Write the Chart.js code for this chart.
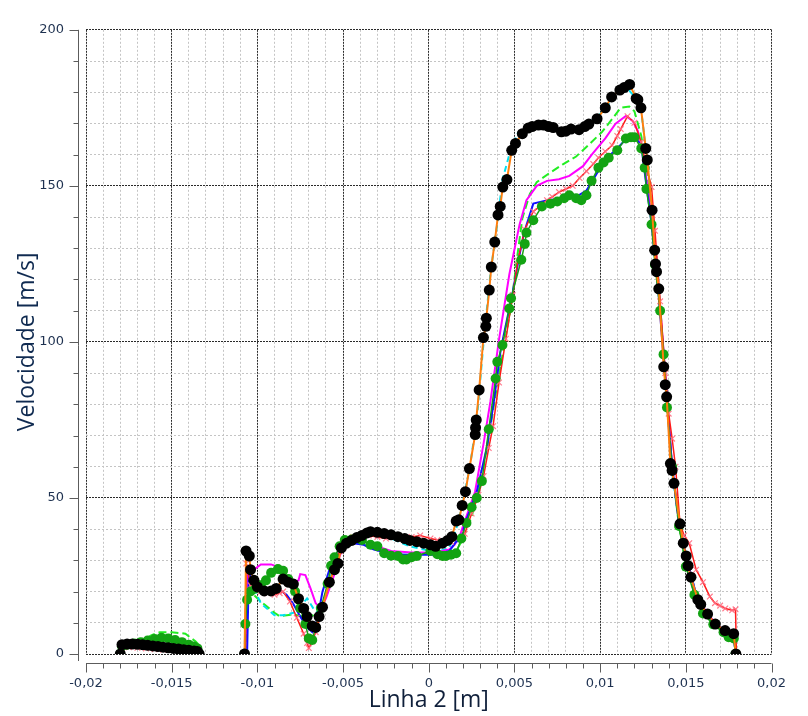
<!DOCTYPE html>
<html>
<head>
<meta charset="utf-8">
<script src="https://cdn.jsdelivr.net/npm/chart.js@4.4.1/dist/chart.umd.min.js"></script>
<style>
  body { margin: 0; background: #fff; }
  #wrap { width: 808px; height: 716px; }
</style>
</head>
<body>
<div id="wrap"><canvas id="grafico" width="808" height="716"></canvas></div>
<script>
// rótulos dos eixos
const xTickLabels = ['-0,02', '-0,015', '-0,01', '-0,005', '0', '0,005', '0,01', '0,015', '0,02'];
const yTickLabels = ['0', '50', '100', '150', '200'];

// pretos (linha laranja)
const xPreto = [-0.018, -0.0179, -0.0176, -0.0173, -0.017, -0.0167, -0.0164, -0.0161, -0.0158, -0.0155, -0.0152, -0.0149, -0.0146, -0.0143, -0.014, -0.0137, -0.0135, -0.0134, -0.012,
  -0.01075, -0.01066, -0.01047, -0.0104, -0.0102, -0.01, -0.0096, -0.0092, -0.0089, -0.0085, -0.0082, -0.0079, -0.0076, -0.0073, -0.0071, -0.0068, -0.0066, -0.0064, -0.0062, -0.0058, -0.0055, -0.0053, -0.0051, -0.0048, -0.0045, -0.0042, -0.0039, -0.0036, -0.0034, -0.003, -0.0026, -0.0022, -0.0018, -0.0014, -0.0011, -0.0007, -0.0003, 0.0001, 0.0004, 0.0008, 0.0011, 0.00135, 0.0016, 0.00176, 0.00195, 0.00214, 0.00237, 0.00271, 0.00273, 0.00277, 0.00294, 0.00319, 0.00333, 0.00336, 0.00353, 0.00365, 0.00385, 0.00404, 0.00417, 0.00432, 0.00456, 0.00484, 0.00506, 0.00546, 0.0058, 0.00603, 0.0064, 0.0067, 0.007, 0.00726, 0.00774, 0.008, 0.0083, 0.00877, 0.0091, 0.00934, 0.00982, 0.0103, 0.01067, 0.01115, 0.0114, 0.01172, 0.0121, 0.0122, 0.01238, 0.01266, 0.01275, 0.01303, 0.01318, 0.01323, 0.01329, 0.01342, 0.01371, 0.0138, 0.01388, 0.0141, 0.0142, 0.01431, 0.01466, 0.01485, 0.01502, 0.01513, 0.0153, 0.0157, 0.01587, 0.01627, 0.01672, 0.01729, 0.01779, 0.01792];
const yPreto = [0, 3.0, 3.2, 3.2, 3.1, 3.0, 2.8, 2.6, 2.4, 2.2, 2.0, 1.8, 1.6, 1.4, 1.2, 1.0, 0.8, 0, null,
  0, 33, 31.4, 27, 23.6, 21.5, 20.2, 20.2, 21, 24, 23, 22.4, 17.7, 14.6, 12, 9, 8.5, 12, 15, 23, 27, 29, 34, 35.5, 36.4, 37.3, 38, 38.8, 39.2, 39, 38.6, 38.2, 37.6, 37, 36.4, 36, 35.5, 35, 34.5, 35.5, 36.4, 37.6, 42.6, 43, 47.6, 52, 59.4, 70.3, 72.5, 75, 84.6, 101.4, 105, 107.6, 116.6, 124, 132, 140.7, 143.4, 149.6, 152, 161.4, 163.6, 166.7, 168.5, 169, 169.5, 169.5, 169, 168.7, 167.3, 167.5, 168.2, 168, 169, 169.8, 171.5, 175, 178.5, 180.7, 181.5, 182.5, 178, 177.6, 175, 162, 158.3, 142.2, 129.4, 125, 122.5, 117, 92, 86.3, 82.4, 61, 58.8, 54.7, 41.7, 35.5, 31.4, 28.3, 24.6, 17.4, 15.9, 12.8, 9.6, 7.5, 6.5, 0];

// ciano tracejado
const xCiano = [-0.018, -0.0179, -0.017, -0.016, -0.015, -0.014, -0.0135, -0.0134, -0.012,
  -0.01075, -0.0106, -0.0103, -0.0098, -0.009, -0.0085, -0.0079, -0.0075, -0.0071, -0.0067, -0.0064, -0.006, -0.0056, -0.0052, -0.0048, -0.0042, -0.0036, -0.003, -0.0022, -0.0011, 0.0004, 0.0012, 0.0016, 0.002, 0.0024, 0.0028, 0.0032, 0.0036, 0.004, 0.0043, 0.0047, 0.0052, 0.006, 0.0068, 0.0076, 0.0084, 0.0093, 0.01, 0.0107, 0.0112, 0.0117, 0.0121, 0.0124, 0.0127, 0.013, 0.0134, 0.0138, 0.0142, 0.0146, 0.015, 0.0156, 0.0163, 0.017, 0.0178, 0.0179];
const yCiano = [0, 3, 3, 2.6, 2, 1.3, 0.9, 0, null,
  0, 28, 22, 16.3, 12.4, 12.4, 13.2, 15.2, 17.8, 14.3, 12.8, 19, 27, 32, 35.5, 37.5, 38.5, 38.5, 37, 34.5, 32.6, 34, 40, 49, 60, 75, 100, 122, 138, 152, 160, 167, 170, 170, 168, 168.5, 170, 173, 177.5, 180, 180.5, 178, 174, 160, 145, 120, 88, 58, 42, 32, 19, 12, 8.5, 6.5, 0];

// azul
const xAzul = [-0.018, -0.0179, -0.017, -0.016, -0.015, -0.014, -0.0134, -0.012,
  -0.0106, -0.0105, -0.0102, -0.0098, -0.0093, -0.0088, -0.0083, -0.0079, -0.0075, -0.0071, -0.0068, -0.0065, -0.0062, -0.0058, -0.0054, -0.005, -0.0044, -0.0038, -0.0032, -0.0022, -0.001, 0.0004, 0.0012, 0.0016, 0.0019, 0.0021, 0.0024, 0.0028, 0.0034, 0.0038, 0.0042, 0.0049, 0.0053, 0.00556, 0.0061, 0.007, 0.008, 0.0086, 0.0092, 0.0097, 0.0103, 0.011, 0.0116, 0.012, 0.0124, 0.0127, 0.013, 0.0134, 0.0138, 0.0142, 0.0146, 0.015, 0.0156, 0.0163, 0.017, 0.0178, 0.0179];
const yAzul = [0, 2.8, 3, 3.5, 3, 2, 0, null,
  0, 26, 22, 21, 20.5, 21, 19, 16, 12, 8.5, 7, 11, 20, 27, 32, 34.5, 35.5, 35, 33.5, 32, 31.8, 31.8, 33, 36, 36.4, 41.7, 46, 52, 66.5, 81, 97.6, 116, 128, 135, 144.3, 145.5, 146, 146.5, 148.5, 153, 158.5, 162, 165.5, 166, 163, 150, 138, 116, 88, 60, 42, 32, 19, 12, 8.5, 6.5, 0];

// verde com pontos
const xVerde = [-0.018, -0.0179, -0.0176, -0.0172, -0.0168, -0.0164, -0.016, -0.0156, -0.0152, -0.0148, -0.0144, -0.014, -0.0137, -0.0135, -0.0134, -0.012,
  -0.01075, -0.0107, -0.0106, -0.0104, -0.0101, -0.0098, -0.0095, -0.0092, -0.0088, -0.0085, -0.0082, -0.0078, -0.0075, -0.0072, -0.007, -0.0068, -0.0066, -0.0063, -0.0059, -0.0057, -0.0055, -0.0052, -0.0049, -0.0045, -0.0039, -0.0034, -0.003, -0.0026, -0.0022, -0.0018, -0.0015, -0.0013, -0.001, -0.0007, 0.0001, 0.0005, 0.0008, 0.001, 0.0013, 0.0016, 0.0019, 0.0022, 0.0025, 0.0028, 0.0031, 0.0035, 0.0039, 0.004, 0.0043, 0.0047, 0.0048, 0.0054, 0.0056, 0.0057, 0.0061, 0.0066, 0.0071, 0.0075, 0.0079, 0.0082, 0.0086, 0.0089, 0.0092, 0.0095, 0.0099, 0.0102, 0.0105, 0.011, 0.0115, 0.0118, 0.012, 0.0124, 0.0126, 0.0127, 0.013, 0.0132, 0.0135, 0.0137, 0.0139, 0.0142, 0.0146, 0.015, 0.0155, 0.016, 0.0166, 0.0172, 0.0175, 0.0178, 0.0179];
const yVerde = [0, 2.5, 3, 3.4, 3.8, 4.3, 4.8, 5.2, 5, 4.5, 3.8, 3, 2.4, 1.8, 0, null,
  0, 9.6, 17.4, 20, 21, 22, 23.6, 26, 27.2, 26.7, 24, 20, 14.7, 9.6, 5, 4.5, 8.5, 14.7, 22.5, 28.3, 31, 34.5, 36.5, 36.7, 36.5, 35, 34.5, 32.3, 31.5, 31.4, 30.3, 30.3, 31, 31.4, 33, 32, 31.4, 31.4, 31.8, 32.3, 37, 42, 47, 50, 55.4, 72, 88.3, 93.6, 99, 110.7, 114, 126.3, 131.4, 135, 139, 143.4, 144.3, 145, 146, 147, 146, 145.4, 147, 151.6, 155.8, 157.5, 159, 161.4, 165.2, 165.6, 165.6, 162, 155.8, 149, 137.6, 124.7, 110, 96, 79, 60, 41, 28, 19, 13, 9.5, 7, 5.4, 5, 0];

// vermelho com cruzes
const xVermelho = [-0.018, -0.0179, -0.0175, -0.017, -0.0165, -0.016, -0.0155, -0.015, -0.0145, -0.014, -0.0135, -0.0134, -0.012,
  -0.0107, -0.01065, -0.0104, -0.0101, -0.0098, -0.0094, -0.009, -0.0087, -0.0085, -0.0081, -0.0077, -0.0073, -0.0071, -0.007, -0.0068, -0.0066, -0.0062, -0.0058, -0.0055, -0.0052, -0.0048, -0.0044, -0.004, -0.0035, -0.003, -0.0025, -0.0018, -0.001, -0.0005, 0.0001, 0.0005, 0.001, 0.0013, 0.0016, 0.0021, 0.0025, 0.0029, 0.0032, 0.0035, 0.00375, 0.0041, 0.0045, 0.0049, 0.0052, 0.0056, 0.0061, 0.0065, 0.0069, 0.0072, 0.0076, 0.008, 0.0084, 0.0088, 0.0092, 0.0096, 0.0099, 0.0103, 0.0107, 0.011, 0.0112, 0.0116, 0.012, 0.0124, 0.0127, 0.013, 0.0132, 0.0135, 0.0138, 0.014, 0.0142, 0.0144, 0.01466, 0.0149, 0.0152, 0.0156, 0.016, 0.0164, 0.0167, 0.017, 0.0173, 0.0177, 0.0179, 0.01795];
const yVermelho = [0, 2, 2.2, 2, 1.8, 1.5, 1.4, 1.3, 1.1, 1, 1.2, 0, null,
  0, 29, 22, 20.5, 20, 19.5, 19, 19.5, 20, 16.8, 11.6, 6.5, 3.5, 1.9, 4, 7, 14.7, 23, 28, 33, 36, 37.5, 38, 38, 37.5, 37, 37.5, 37.5, 38, 37, 36.5, 36, 36, 37, 38.5, 45, 51, 57, 66, 73, 87, 101, 115, 126, 136, 141.8, 143.5, 145.4, 146.5, 148, 149, 150, 152.5, 154.7, 157, 159, 161, 163, 166, 168.2, 172.3, 170.2, 164, 156, 149.6, 135.6, 113, 90, 77, 69, 60, 41.7, 38, 35.5, 27, 23, 18.4, 16.3, 15.5, 14.6, 14, 14.3, 0];

// magenta
const xMagenta = [-0.018, -0.0179, -0.017, -0.016, -0.015, -0.014, -0.0134, -0.012,
  -0.0107, -0.0106, -0.0102, -0.0098, -0.0092, -0.0087, -0.0084, -0.008, -0.0076, -0.0075, -0.0072, -0.0069, -0.0066, -0.0063, -0.006, -0.0056, -0.0052, -0.0049, -0.0044, -0.0038, -0.003, -0.0022, -0.001, 0.0004, 0.0012, 0.0015, 0.0018, 0.002, 0.0027, 0.0032, 0.0036, 0.0041, 0.0047, 0.0052, 0.0053, 0.0057, 0.0063, 0.0069, 0.0076, 0.0082, 0.009, 0.0095, 0.0103, 0.0109, 0.0115, 0.0119, 0.0122, 0.0125, 0.0128, 0.0131, 0.0134, 0.0138, 0.0142, 0.0146, 0.015, 0.0156, 0.0163, 0.017, 0.0178, 0.0179];
const yMagenta = [0, 2.8, 3, 3, 2.5, 1.8, 0, null,
  0, 25, 27, 28.7, 28.7, 27.7, 25.6, 23, 23.6, 25.6, 25.3, 21, 16.3, 14.7, 17.8, 24, 31.4, 35, 36.5, 36, 34.5, 33, 32.5, 32.5, 33.5, 35, 37.6, 41, 52, 67.5, 81, 100.8, 121.6, 135, 137.6, 145.4, 150, 151.6, 152.1, 153.2, 156.3, 159.9, 165.2, 169.9, 172.4, 170.8, 167.6, 160, 148, 136, 118, 90, 60, 42, 31, 19, 12.5, 8.5, 6.5, 0];

// verde claro tracejado
const xLima = [-0.018, -0.0179, -0.0172, -0.0166, -0.0162, -0.0157, -0.015, -0.0142, -0.0136, -0.0134, -0.0133, -0.012,
  -0.0107, -0.0106, -0.0105, -0.0098, -0.009, -0.0087, -0.0079, -0.0074, -0.007, -0.0066, -0.0061, -0.0056, -0.0052, -0.0048, -0.0043, -0.0038, -0.0032, -0.0025, -0.0018, -0.001, 0.0001, 0.001, 0.0016, 0.002, 0.0025, 0.0029, 0.0034, 0.0039, 0.0044, 0.0048, 0.0051, 0.00546, 0.0059, 0.0063, 0.0071, 0.0078, 0.0086, 0.0093, 0.0101, 0.0107, 0.0112, 0.0117, 0.012, 0.0124, 0.0127, 0.013, 0.0134, 0.0138, 0.0142, 0.0146, 0.015, 0.0155, 0.016, 0.0166, 0.0172, 0.0178, 0.0179];
const yLima = [0, 2.8, 3.5, 4.5, 6, 7, 7, 6.5, 4, 2.8, 0, null,
  0, 18, 20.5, 16.8, 13.2, 12.1, 12.7, 12.1, 11.6, 13, 16.8, 27, 33, 35.5, 36, 35, 34, 32.5, 31.5, 31.5, 32.5, 32, 33, 37, 44, 52, 66, 83, 99, 111, 124.7, 139.6, 147.4, 151.2, 154.3, 156.8, 159.4, 163, 167.2, 171.4, 175, 175.4, 173.9, 166, 155, 140, 117, 89, 60, 41, 29, 19.5, 13.5, 9.5, 7, 5.5, 0];

const pares = (xs, ys) => xs.map((x, i) => ({ x: x, y: ys[i] }));

// eixos deslocados da área do gráfico, como no original
const eixos = {
  id: 'eixos',
  afterDraw(chart) {
    const { ctx, chartArea: a, scales: { x, y } } = chart;
    const ex = a.left - 7.5, ey = a.bottom + 9.5;
    ctx.save();
    ctx.strokeStyle = '#5c5c5c';
    ctx.lineWidth = 1;
    ctx.beginPath();
    ctx.moveTo(ex, a.top); ctx.lineTo(ex, a.bottom + 7);
    ctx.moveTo(a.left, ey); ctx.lineTo(a.right, ey);
    y.ticks.forEach(t => {
      const p = Math.round(y.getPixelForValue(t.value)) + 0.5;
      const len = Math.round(t.value) % 50 === 0 ? 9 : 5;
      ctx.moveTo(ex - len, p); ctx.lineTo(ex, p);
    });
    x.ticks.forEach(t => {
      const p = Math.round(x.getPixelForValue(t.value)) + 0.5;
      const len = Math.round(t.value * 1000) % 5 === 0 ? 9 : 5;
      ctx.moveTo(p, ey); ctx.lineTo(p, ey + len);
    });
    ctx.stroke();
    ctx.restore();
  }
};

const ehMaiorX = c => Math.round(c.tick.value * 1000) % 5 === 0;
const ehMaiorY = c => Math.round(c.tick.value) % 50 === 0;

const corTexto = '#1e3150';
const ctx = document.getElementById('grafico').getContext('2d');
const grafico = new Chart(ctx, {
  type: 'line',
  data: {
    datasets: [
      { label: 'preto', data: pares(xPreto, yPreto), borderColor: '#ff7f0e', borderWidth: 2,
        pointRadius: 5.5, pointBackgroundColor: '#000', pointBorderColor: '#000', pointBorderWidth: 0 },
      { label: 'verde', data: pares(xVerde, yVerde), borderColor: '#16a016', borderWidth: 1.5,
        pointRadius: 5, pointBackgroundColor: '#13a313', pointBorderColor: '#13a313', pointBorderWidth: 0 },
      { label: 'vermelho', data: pares(xVermelho, yVermelho), borderColor: '#ff1a1a', borderWidth: 1.5,
        pointStyle: 'crossRot', pointRadius: 4, pointBorderColor: 'rgba(255,110,130,0.9)', pointBorderWidth: 1.2 },
      { label: 'azul', data: pares(xAzul, yAzul), borderColor: '#1010ff', borderWidth: 2, pointRadius: 0 },
      { label: 'magenta', data: pares(xMagenta, yMagenta), borderColor: '#ff00ff', borderWidth: 2, pointRadius: 0 },
      { label: 'ciano', data: pares(xCiano, yCiano), borderColor: '#00e0f0', borderWidth: 2, borderDash: [6, 4], pointRadius: 0 },
      { label: 'lima', data: pares(xLima, yLima), borderColor: '#22ee22', borderWidth: 2, borderDash: [8, 4], pointRadius: 0 }
    ]
  },
  options: {
    responsive: false,
    animation: false,
    spanGaps: false,
    layout: { padding: { left: 0, right: 19, top: 11, bottom: 0 } },
    plugins: { legend: { display: false }, tooltip: { enabled: false } },
    scales: {
      x: {
        type: 'linear', min: -0.02, max: 0.02,
        afterFit: s => { s.height = 62; },
        afterBuildTicks: s => {
          const t = [];
          for (let i = -20; i <= 20; i++) t.push({ value: i / 1000 });
          s.ticks = t;
        },
        ticks: {
          autoSkip: false, maxRotation: 0, padding: 22, color: corTexto,
          font: { family: 'DejaVu Sans', size: 13 },
          callback: v => {
            const k = Math.round(v * 1000);
            return k % 5 === 0 ? xTickLabels[(k + 20) / 5] : '';
          }
        },
        grid: {
          drawTicks: false,
          color: c => ehMaiorX(c) ? '#2a2a2a' : '#c4c4c4'
        },
        border: { display: false, dash: c => ehMaiorX(c) ? [2, 1] : [2, 2] },
        title: { display: true, text: 'Linha 2 [m]', color: '#0f1f3a',
          font: { family: 'Open Sans', size: 23 }, padding: { top: 0, bottom: 2 } }
      },
      y: {
        type: 'linear', min: 0, max: 200,
        afterFit: s => { s.width = 86; },
        afterBuildTicks: s => {
          const t = [];
          for (let v = 0; v <= 200; v += 10) t.push({ value: v });
          s.ticks = t;
        },
        ticks: {
          autoSkip: false, padding: 22, color: corTexto,
          font: { family: 'DejaVu Sans', size: 13 },
          callback: v => Math.round(v) % 50 === 0 ? yTickLabels[Math.round(v) / 50] : ''
        },
        grid: {
          drawTicks: false,
          color: c => ehMaiorY(c) ? '#2a2a2a' : '#c4c4c4'
        },
        border: { display: false, dash: c => ehMaiorY(c) ? [2, 1] : [2, 2] },
        title: { display: true, text: 'Velocidade [m/s]', color: '#0f2a50',
          font: { family: 'Open Sans', size: 23 }, padding: { top: 14, bottom: 0 } }
      }
    }
  },
  plugins: [eixos]
});
</script>
</body>
</html>
